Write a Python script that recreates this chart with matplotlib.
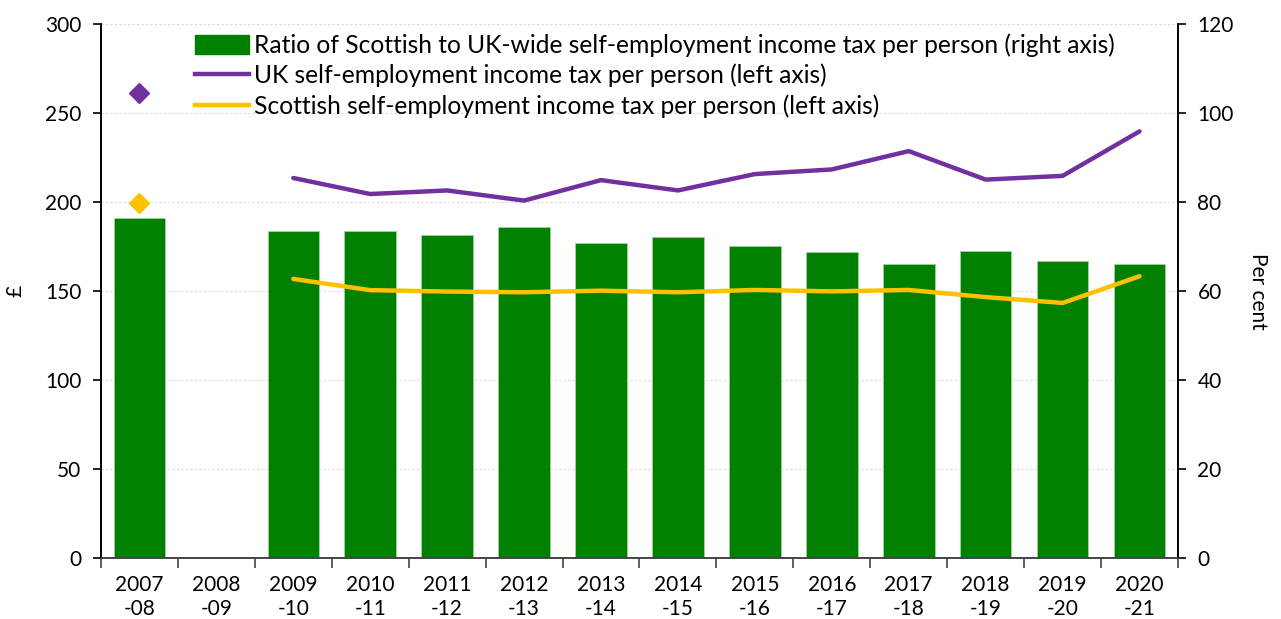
import numpy as np
import matplotlib
matplotlib.use("Agg")
import matplotlib.pyplot as plt
from matplotlib.lines import Line2D
from matplotlib.patches import Patch

plt.rcParams['font.family'] = ['Lato', 'DejaVu Sans']

years = ["2007\n-08", "2008\n-09", "2009\n-10", "2010\n-11", "2011\n-12", "2012\n-13",
         "2013\n-14", "2014\n-15", "2015\n-16", "2016\n-17", "2017\n-18", "2018\n-19",
         "2019\n-20", "2020\n-21"]
# ratio of Scottish to UK-wide (per cent, right axis); None = no data
ratio = [76.3, None, 73.4, 73.6, 72.5, 74.4, 70.9, 72.1, 70.1, 68.7, 66.1, 68.9, 66.7, 66.1]
# tax per person in pounds (left axis)
uk_tax = [261.5, None, 213.5, 204.5, 206.5, 200.8, 212.3, 206.5, 215.7, 218.3, 228.6, 212.6, 214.7, 239.7]
scot_tax = [199.5, None, 156.8, 150.5, 149.7, 149.3, 150.2, 149.3, 150.6, 149.8, 150.6, 146.6, 143.3, 158.3]

green = "#008000"
purple = "#7030A0"
gold = "#FFC000"
fs = 15

x = np.arange(len(years))
fig = plt.figure(figsize=(12.81, 6.19), dpi=100)
ax = fig.add_axes([0.0788, 0.0985, 0.8408, 0.8627])
ax2 = ax.twinx()

bar_vals = [np.nan if v is None else v for v in ratio]
ax2.bar(x, bar_vals, width=0.67, color=green, edgecolor="#9fd49f", linewidth=0.6, zorder=2)
ax2.set_ylim(0, 120)
ax2.set_yticks(np.arange(0, 121, 20))
ax2.set_ylabel("Per cent", fontsize=fs, labelpad=10, rotation=270, va='bottom')
# gridlines share positions on both axes, draw them behind the bars
ax2.yaxis.grid(True, color="#d9d9d9", ls=(0, (2, 2)), lw=0.8, zorder=0)
ax2.set_axisbelow(True)

# lines from 2009-10 onward, single points for 2007-08
uk = np.array([np.nan if v is None else v for v in uk_tax])
sc = np.array([np.nan if v is None else v for v in scot_tax])
ax.plot(x[2:], uk[2:], color=purple, lw=3.2, solid_capstyle='round', zorder=5)
ax.plot(x[2:], sc[2:], color=gold, lw=3.2, solid_capstyle='round', zorder=5)
ax.plot(x[0], uk[0], marker='D', ms=10, color=purple, ls='none', zorder=5)
ax.plot(x[0], sc[0], marker='D', ms=10, color=gold, ls='none', zorder=5)

ax.set_ylim(0, 300)
ax.set_yticks(np.arange(0, 301, 50))
ax.set_xlim(-0.5, len(years) - 0.5)
ax.set_ylabel("£", fontsize=fs, labelpad=14)

# lines above the bars
ax.set_zorder(ax2.get_zorder() + 1)
ax.patch.set_visible(False)

ax.set_xticks(x)
ax.set_xticklabels(years, fontsize=fs, linespacing=1.25)
ax.set_xticks(np.arange(-0.5, len(years), 1), minor=True)
ax.tick_params(axis='x', which='major', length=0, pad=12)
ax.tick_params(axis='x', which='minor', length=7, width=1.2, direction='out', color="#444444")
ax.tick_params(axis='y', labelsize=fs, length=6, width=1.2, direction='out', pad=8)
ax2.tick_params(axis='y', labelsize=fs, length=6, width=1.2, direction='out', pad=8)

for a in (ax, ax2):
    a.spines['top'].set_visible(False)
    a.spines['left'].set_linewidth(1.2)
    a.spines['right'].set_linewidth(1.2)
    a.spines['bottom'].set_color("#444444")
    a.spines['bottom'].set_linewidth(1.2)

handles = [Patch(facecolor=green, edgecolor=green),
           Line2D([], [], color=purple, lw=3.2),
           Line2D([], [], color=gold, lw=3.2)]
labels = ["Ratio of Scottish to UK-wide self-employment income tax per person (right axis)",
          "UK self-employment income tax per person (left axis)",
          "Scottish self-employment income tax per person (left axis)"]
ax.legend(handles, labels, loc='upper left', bbox_to_anchor=(0.087, 0.983), frameon=False,
          fontsize=17.7, handlelength=2.2, handleheight=0.8, handletextpad=0.2,
          labelspacing=0.28, borderpad=0, borderaxespad=0)

fig.savefig("out.png", dpi=100)
